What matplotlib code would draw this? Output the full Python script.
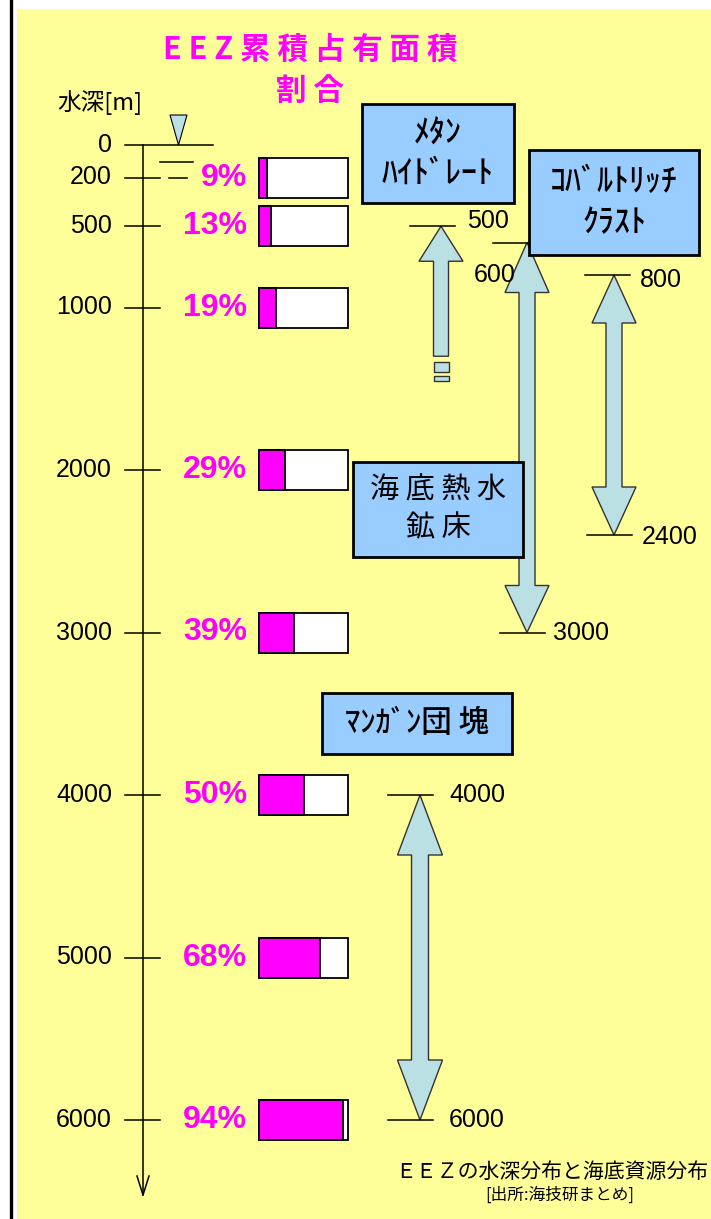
import matplotlib.pyplot as plt
from matplotlib.patches import Rectangle, Polygon

plt.rcParams['font.family'] = ['Noto Sans CJK JP', 'DejaVu Sans']
NUM_FONT = ['Liberation Sans', 'DejaVu Sans']

# データ
depth_ticks = [0, 200, 500, 1000, 2000, 3000, 4000, 5000, 6000]
bar_depths = [200, 500, 1000, 2000, 3000, 4000, 5000, 6000]
eez_share = [9, 13, 19, 29, 39, 50, 68, 94]

res_names = ['ﾒﾀﾝ\nﾊｲﾄﾞﾚｰﾄ', 'ｺﾊﾞﾙﾄﾘｯﾁ\nｸﾗｽﾄ', '海 底 熱 水\n鉱 床', 'ﾏﾝｶﾞﾝ団 塊']
res_top = [500, 800, 600, 4000]
res_bottom = [1300, 2400, 3000, 6000]

YELLOW = '#FFFF99'
BOX_BLUE = '#99CCFF'
ARROW_C = '#BBE0E3'
MAGENTA = '#FF00FF'


def py(p):
    # 画像の行(px) -> 水深
    return (p - 145) / 0.1625


M_PER_PX = 1 / 0.1625

fig = plt.figure(figsize=(7.11, 12.19), dpi=100)
ax = fig.add_axes([0, 0, 1, 1])
ax.set_xlim(0, 711)
ax.set_ylim(py(1219), py(0))
ax.axis('off')

# 背景
ax.add_patch(Rectangle((17, py(9)), 711 - 17, py(1219) - py(9), fc=YELLOW, ec='none', zorder=0))
ax.plot([11, 11], [py(0), py(1219)], color='black', lw=2.4, zorder=1)

# 水深軸
ax.plot([143, 143], [0, py(1195)], color='black', lw=1.1)
ax.plot([137, 143, 149], [py(1176), py(1195), py(1176)], color='black', lw=1.1)
for d in depth_ticks:
    x1 = 213 if d == 0 else 160
    ax.plot([125, x1], [d, d], color='black', lw=1.1)
    ax.text(112, d, str(d), ha='right', va='center', fontsize=18, family=NUM_FONT)
ax.text(57, py(103), '水深[m]', ha='left', va='center', fontsize=17)

# 海面記号
ax.add_patch(Polygon([(170, py(115)), (187, py(115)), (178.5, 0)], closed=True,
                     fc=ARROW_C, ec='black', lw=0.8, zorder=3))
ax.plot([160, 193], [py(162), py(162)], color='black', lw=1.1)
ax.plot([169, 187], [py(178), py(178)], color='black', lw=1.1)

# タイトル
ax.text(310, py(50), 'E E Z 累 積 占 有 面 積', ha='center', va='center',
        fontsize=22, fontweight='bold', color=MAGENTA)
ax.text(310, py(92), '割 合', ha='center', va='center',
        fontsize=22, fontweight='bold', color=MAGENTA)

# 累積占有面積の帯
bar_left, bar_w, bar_h = 259, 89, 40 * M_PER_PX
ax.barh(bar_depths, bar_w, left=bar_left, height=bar_h, color='white',
        edgecolor='black', linewidth=1.3, zorder=2)
ax.barh(bar_depths, [s / 100 * bar_w for s in eez_share], left=bar_left,
        height=bar_h, color=MAGENTA, edgecolor='black', linewidth=1.3, zorder=3)
for d, s in zip(bar_depths, eez_share):
    ax.text(247, d, f'{s}%', ha='right', va='center', fontsize=23,
            fontweight='bold', color=MAGENTA, family=NUM_FONT)


def v_arrow(xc, d_top, d_bot, head_top=True, head_bot=True,
            sw=16, hw=44, hl_top=48, hl_bot=48):
    s, h = sw / 2, hw / 2
    lt, lb = hl_top * M_PER_PX, hl_bot * M_PER_PX
    pts = []
    if head_top:
        pts += [(xc - s, d_top + lt), (xc - h, d_top + lt), (xc, d_top),
                (xc + h, d_top + lt), (xc + s, d_top + lt)]
    else:
        pts += [(xc - s, d_top), (xc + s, d_top)]
    if head_bot:
        pts += [(xc + s, d_bot - lb), (xc + h, d_bot - lb), (xc, d_bot),
                (xc - h, d_bot - lb), (xc - s, d_bot - lb)]
    else:
        pts += [(xc + s, d_bot), (xc - s, d_bot)]
    ax.add_patch(Polygon(pts, closed=True, fc=ARROW_C, ec='#333333', lw=1.0, zorder=2))


def depth_mark(d, x0, x1, lx, ly_px_off=0):
    ax.plot([x0, x1], [d, d], color='black', lw=1.1, zorder=3)
    ax.text(lx, d + ly_px_off * M_PER_PX, str(d), ha='left', va='center',
            fontsize=18, family=NUM_FONT)


def box(x0, x1, y0, y1, text, fs, weight='normal'):
    ax.add_patch(Rectangle((x0, py(y0)), x1 - x0, py(y1) - py(y0), fc=BOX_BLUE,
                           ec='black', lw=2, zorder=4))
    ax.text((x0 + x1) / 2, py((y0 + y1) / 2), text, ha='center', va='center',
            fontsize=fs, fontweight=weight, linespacing=1.35, zorder=5)


# メタンハイドレート
v_arrow(441, res_top[0], res_bottom[0], head_top=True, head_bot=False,
        sw=15, hw=44, hl_top=35)
for a, b in [(362, 372), (376, 381)]:
    ax.add_patch(Rectangle((434, py(a)), 15, py(b) - py(a), fc=ARROW_C,
                           ec='#333333', lw=1.0, zorder=2))
depth_mark(res_top[0], 410, 455, 467, -5)
box(362, 514, 104, 203, res_names[0], 23, 'medium')

# コバルトリッチクラスト
v_arrow(614, res_top[1], res_bottom[1], hl_top=48, hl_bot=48)
depth_mark(res_top[1], 585, 630, 640, 5)
depth_mark(res_bottom[1], 587, 632, 642, 2)
box(529, 699, 150, 255, res_names[1], 23, 'medium')

# 海底熱水鉱床
v_arrow(527, res_top[2], res_bottom[2], hl_top=50, hl_bot=47)
ax.plot([493, 545], [res_top[2], res_top[2]], color='black', lw=1.1, zorder=3)
ax.text(474, py(275), str(res_top[2]), ha='left', va='center',
        fontsize=18, family=NUM_FONT, zorder=3)
depth_mark(res_bottom[2], 500, 545, 553, 0)
box(353, 523, 462, 557, res_names[2], 21)

# マンガン団塊
v_arrow(420, res_top[3], res_bottom[3], sw=17, hw=45, hl_top=60, hl_bot=60)
depth_mark(res_top[3], 388, 433, 449, 0)
depth_mark(res_bottom[3], 388, 433, 449, 0)
box(322, 512, 693, 754, res_names[3], 22, 'medium')

# 注記
ax.text(395, py(1172), 'ＥＥＺの水深分布と海底資源分布', ha='left', va='center', fontsize=15)
ax.text(560, py(1195), '[出所:海技研まとめ]', ha='center', va='center', fontsize=12)

fig.savefig('out.png', dpi=100)
